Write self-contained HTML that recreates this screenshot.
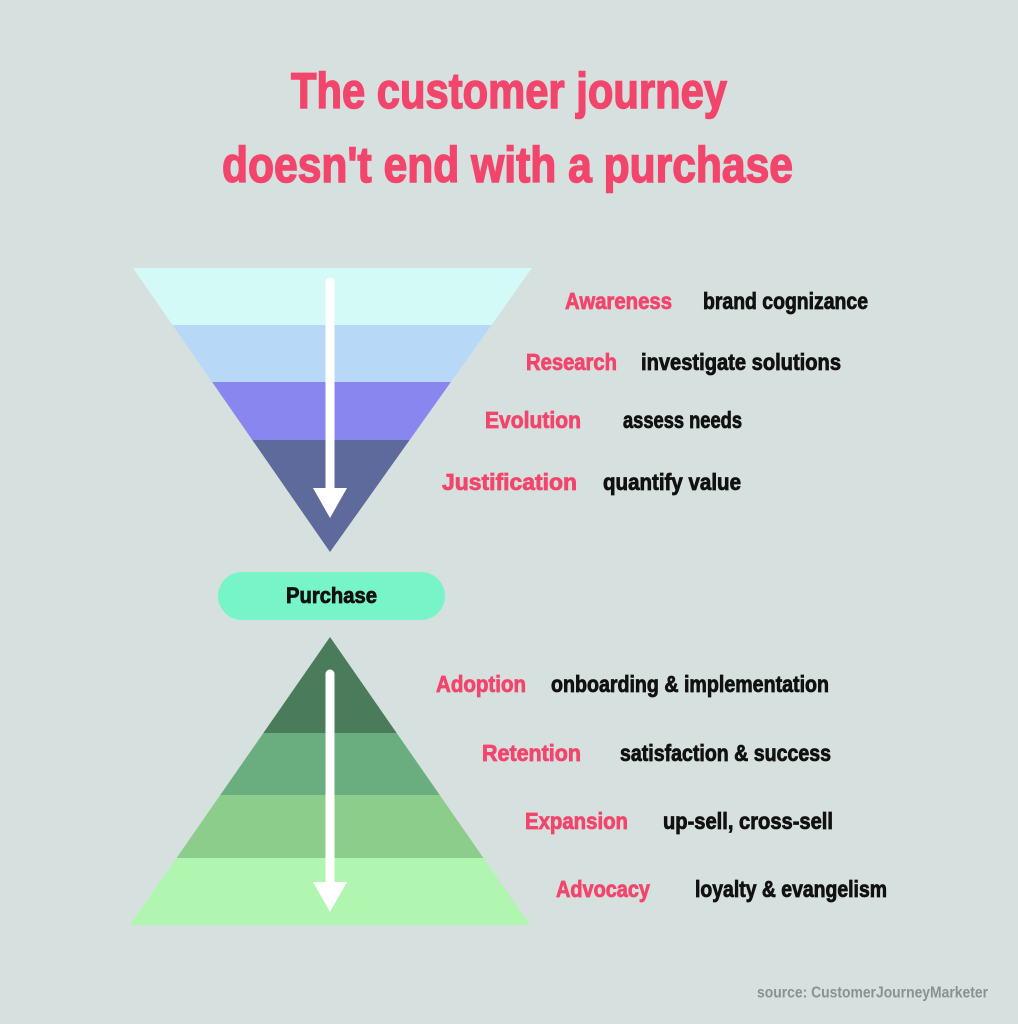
<!DOCTYPE html>
<html><head><meta charset="utf-8"><style>
html,body{margin:0;padding:0;background:#d6e0de;}
svg{display:block}
text{font-family:"Liberation Sans Narrow","Liberation Sans",sans-serif;font-weight:bold;}
.p{fill:#f2456c;font-size:23px;stroke:#f2456c;stroke-width:0.8}
.b{fill:#111;font-size:23px;stroke:#111;stroke-width:0.8}
</style></head><body>
<svg width="1018" height="1024" viewBox="0 0 1018 1024" xmlns="http://www.w3.org/2000/svg">
<rect width="1018" height="1024" fill="#d6e0de"/>
<text x="291" y="108" textLength="436" lengthAdjust="spacingAndGlyphs" fill="#f2456c" stroke="#f2456c" stroke-width="1.5" font-size="50">The customer journey</text>
<text x="222" y="182" textLength="571" lengthAdjust="spacingAndGlyphs" fill="#f2456c" stroke="#f2456c" stroke-width="1.5" font-size="50">doesn't end with a purchase</text>
<defs>
<clipPath id="f"><polygon points="133,268 532,268 330,552"/></clipPath>
<clipPath id="g"><polygon points="330,637 530,925 130,925"/></clipPath>
</defs>
<g clip-path="url(#f)">
<rect x="100" y="260" width="460" height="65" fill="#d3faf7"/>
<rect x="100" y="325" width="460" height="57" fill="#b8d8f7"/>
<rect x="100" y="382" width="460" height="58" fill="#8a86f0"/>
<rect x="100" y="440" width="460" height="120" fill="#5e6a9b"/>
</g>
<g clip-path="url(#g)">
<rect x="100" y="630" width="460" height="103" fill="#4a7b5a"/>
<rect x="100" y="733" width="460" height="62" fill="#6aae7f"/>
<rect x="100" y="795" width="460" height="63" fill="#8ccd8b"/>
<rect x="100" y="858" width="460" height="70" fill="#b0f6b0"/>
</g>
<line x1="330" y1="282" x2="330" y2="492" stroke="#fff" stroke-width="9" stroke-linecap="round"/>
<polygon points="313,488 347,488 330,518" fill="#fff"/>
<line x1="330" y1="674" x2="330" y2="885" stroke="#fff" stroke-width="9" stroke-linecap="round"/>
<polygon points="313,882 347,882 330,912" fill="#fff"/>
<rect x="218" y="572" width="227" height="48" rx="24" fill="#78f5c8"/>
<text x="286" y="603" textLength="91" lengthAdjust="spacingAndGlyphs" font-size="22" fill="#111" stroke="#111" stroke-width="0.8">Purchase</text>
<g dominant-baseline="central">
<text class="p" x="565" y="301" textLength="107" lengthAdjust="spacingAndGlyphs">Awareness</text>
<text class="b" x="703" y="301" textLength="165" lengthAdjust="spacingAndGlyphs">brand cognizance</text>
<text class="p" x="526" y="362" textLength="91" lengthAdjust="spacingAndGlyphs">Research</text>
<text class="b" x="641" y="362" textLength="200" lengthAdjust="spacingAndGlyphs">investigate solutions</text>
<text class="p" x="485" y="420" textLength="96" lengthAdjust="spacingAndGlyphs">Evolution</text>
<text class="b" x="623" y="420" textLength="119" lengthAdjust="spacingAndGlyphs">assess needs</text>
<text class="p" x="442" y="482" textLength="135" lengthAdjust="spacingAndGlyphs">Justification</text>
<text class="b" x="603" y="482" textLength="138" lengthAdjust="spacingAndGlyphs">quantify value</text>
<text class="p" x="436" y="684" textLength="90" lengthAdjust="spacingAndGlyphs">Adoption</text>
<text class="b" x="551" y="684" textLength="278" lengthAdjust="spacingAndGlyphs">onboarding &amp; implementation</text>
<text class="p" x="482" y="753" textLength="99" lengthAdjust="spacingAndGlyphs">Retention</text>
<text class="b" x="620" y="753" textLength="211" lengthAdjust="spacingAndGlyphs">satisfaction &amp; success</text>
<text class="p" x="525" y="821" textLength="103" lengthAdjust="spacingAndGlyphs">Expansion</text>
<text class="b" x="663" y="821" textLength="170" lengthAdjust="spacingAndGlyphs">up-sell, cross-sell</text>
<text class="p" x="556" y="889" textLength="94" lengthAdjust="spacingAndGlyphs">Advocacy</text>
<text class="b" x="695" y="889" textLength="192" lengthAdjust="spacingAndGlyphs">loyalty &amp; evangelism</text>
<text x="757" y="993" textLength="231" lengthAdjust="spacingAndGlyphs" font-size="16" fill="#8a9290">source: CustomerJourneyMarketer</text>
</g>
</svg>
</body></html>
